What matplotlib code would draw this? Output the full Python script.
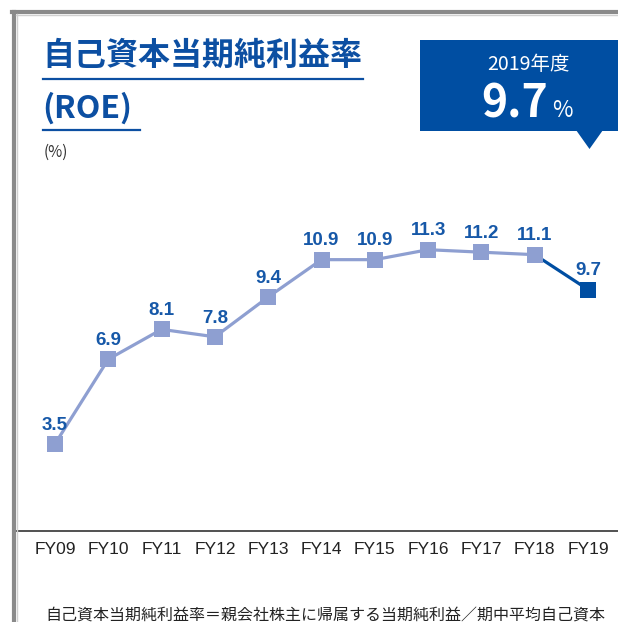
import matplotlib.pyplot as plt
from matplotlib.patches import Polygon, Rectangle
from matplotlib.lines import Line2D

# データ
years = ['FY09', 'FY10', 'FY11', 'FY12', 'FY13', 'FY14', 'FY15', 'FY16', 'FY17', 'FY18', 'FY19']
roe = [3.5, 6.9, 8.1, 7.8, 9.4, 10.9, 10.9, 11.3, 11.2, 11.1, 9.7]
roe_labels = ['3.5', '6.9', '8.1', '7.8', '9.4', '10.9', '10.9', '11.3', '11.2', '11.1', '9.7']
latest_year = '2019年度'
latest_value = '9.7'

light = '#8e9fd1'
dark = '#004ea2'
title_blue = '#0c4fa2'
label_blue = '#1658a8'

jp = ['Noto Sans CJK JP', 'DejaVu Sans']
narrow = ['Liberation Sans Narrow', 'Liberation Sans', 'DejaVu Sans']

W, H = 618, 622
fig = plt.figure(figsize=(W / 100, H / 100), dpi=100)
fig.patch.set_facecolor('white')


def fx(px):
    return px / W


def fy(py):
    return 1 - py / H


# 枠線 (上と左)
fig.add_artist(Line2D([fx(12), 1], [fy(12), fy(12)], color='#8a8a8a', lw=3))
fig.add_artist(Line2D([fx(14), fx(14)], [fy(12), 0], color='#8a8a8a', lw=3))
fig.add_artist(Line2D([fx(16), 1], [fy(14.5), fy(14.5)], color='#d0d0d0', lw=1))
fig.add_artist(Line2D([fx(16.5), fx(16.5)], [fy(14), 0], color='#d0d0d0', lw=1))

# グラフ本体
ax = fig.add_axes([fx(16), fy(531), fx(618) - fx(16), (531 - 180) / H])
x = list(range(len(years)))
ax.plot(x[:-1], roe[:-1], color=light, lw=2.3, marker='s', markersize=11,
        markeredgewidth=0, zorder=3)
ax.plot(x[-2:], roe[-2:], color=dark, lw=2.3, zorder=2)
ax.plot(x[-1], roe[-1], color=dark, marker='s', markersize=11, markeredgewidth=0, zorder=4)
for xi, v, s in zip(x, roe, roe_labels):
    ax.annotate(s, (xi, v), xytext=(0, 13.5), textcoords='offset points',
                ha='center', va='center', fontsize=13.5, fontweight='bold',
                color=label_blue, family=narrow)

ax.set_xlim(-0.732, 10.563)
ax.set_ylim(0, 14.1)
ax.set_xticks(x)
ax.set_xticklabels(years, family=narrow, fontsize=12.5, color='#222222')
ax.tick_params(axis='x', length=0, pad=8)
ax.set_yticks([])
for side in ['top', 'left', 'right']:
    ax.spines[side].set_visible(False)
ax.spines['bottom'].set_color('#333333')
ax.spines['bottom'].set_linewidth(1.2)
ax.patch.set_alpha(0)

# タイトル
fig.text(fx(42), fy(56), '自己資本当期純利益率', family=jp, fontsize=23, fontweight='bold',
         color=title_blue, ha='left', va='center')
fig.add_artist(Line2D([fx(43), fx(363)], [fy(79), fy(79)], color=title_blue, lw=1.6))
fig.text(fx(42), fy(108), '(ROE)', family=jp, fontsize=23, fontweight='bold',
         color=title_blue, ha='left', va='center')
fig.add_artist(Line2D([fx(43), fx(140)], [fy(130), fy(130)], color=title_blue, lw=1.6))
fig.text(fx(44), fy(152), '(%)', family=jp, fontsize=11, color='#333333',
         ha='left', va='center')

# 2019年度ボックス
fig.add_artist(Rectangle((fx(420), fy(131)), fx(618) - fx(420), (131 - 40) / H,
                         facecolor=dark, edgecolor='none'))
fig.add_artist(Polygon([[fx(576), fy(130)], [fx(603), fy(130)], [fx(589.5), fy(149)]],
                       closed=True, facecolor=dark, edgecolor='none'))
fig.text(fx(528), fy(64), latest_year, family=jp, fontsize=14, color='white',
         ha='center', va='center')
fig.text(fx(548), fy(117), latest_value, family=jp, fontsize=32, fontweight='bold',
         color='white', ha='right', va='baseline')
fig.text(fx(552), fy(117), '%', family=jp, fontsize=16, color='white',
         ha='left', va='baseline')

# 注記
fig.text(fx(325), fy(615), '自己資本当期純利益率＝親会社株主に帰属する当期純利益／期中平均自己資本',
         family=jp, fontsize=11.5, color='#222222', ha='center', va='center')

fig.savefig('out.png', dpi=100)
